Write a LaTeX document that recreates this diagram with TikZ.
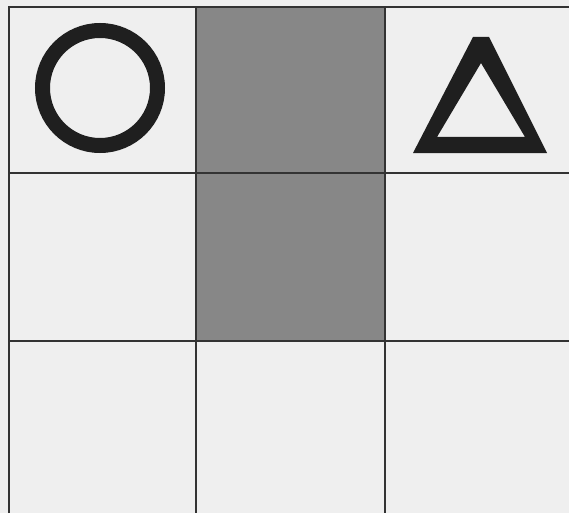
\documentclass[tikz,border=0pt]{standalone}
\begin{document}
\begin{tikzpicture}[x=1pt,y=-1pt,
  gridline/.style={draw=black!80,line width=1.8pt},
  symbolfill/.style={fill=black!88}]
\definecolor{paper}{HTML}{EFEFEF}
\definecolor{cellgray}{HTML}{878787}
\useasboundingbox (0,0) rectangle (569,513);
\fill[paper] (0,0) rectangle (569,513);
\fill[cellgray] (196,7) rectangle (385,341);
\draw[gridline] (9,513) -- (9,7) -- (569,7);
\draw[gridline] (196,7) -- (196,513);
\draw[gridline] (385,7) -- (385,513);
\draw[gridline] (9,173) -- (569,173);
\draw[gridline] (9,341) -- (569,341);
\draw[black!88,line width=15pt] (100,88) circle (57.5);
\fill[symbolfill,even odd rule] (413,153) -- (547,153) -- (489,37) -- (473,37) -- cycle
  (437,137) -- (525,137) -- (481,63) -- cycle;
\end{tikzpicture}
\end{document}
